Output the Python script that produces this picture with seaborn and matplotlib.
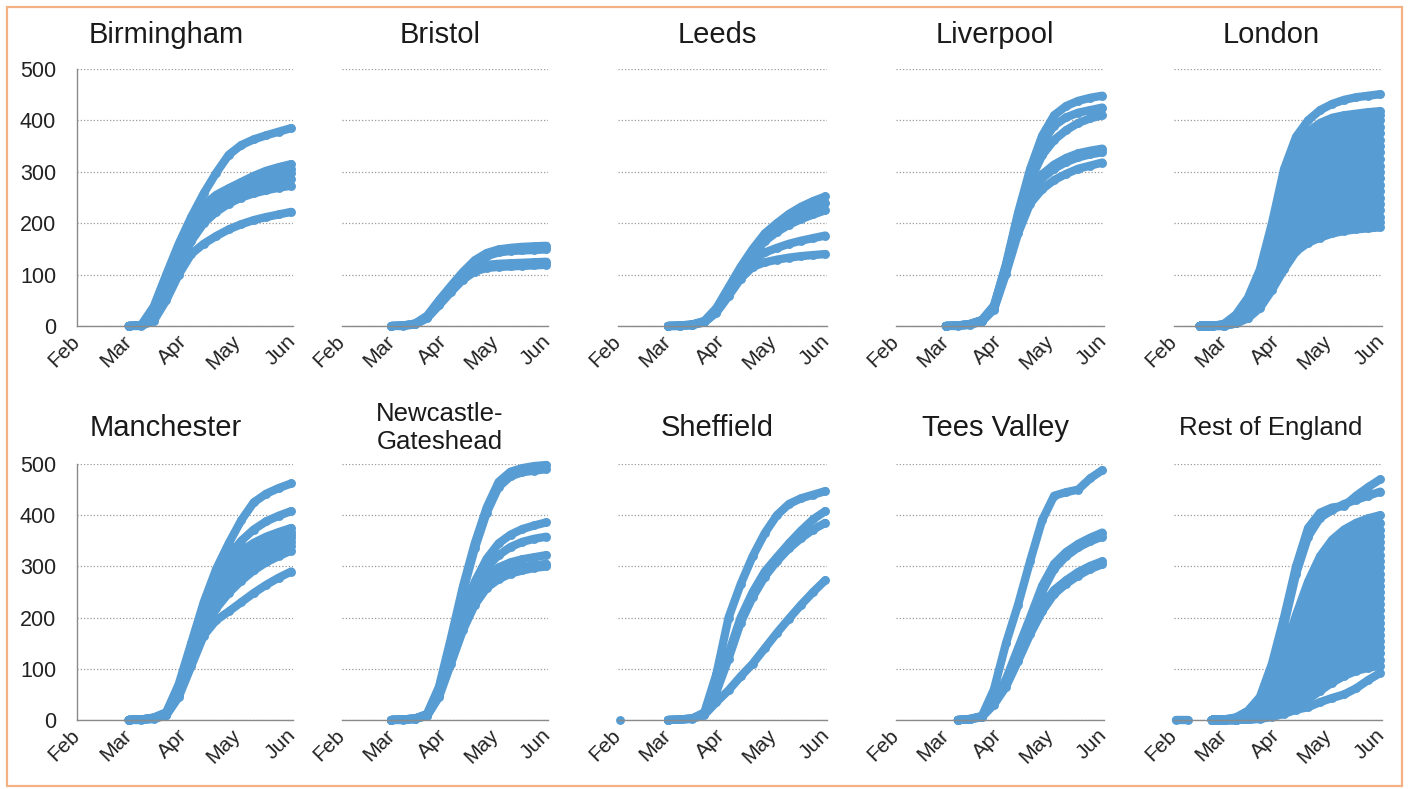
import numpy as np
import pandas as pd
import matplotlib
matplotlib.use("Agg")
import matplotlib.pyplot as plt
import seaborn as sns
from matplotlib.patches import Rectangle

_ = np.nan

# Weekly observation dates (cumulative rate per 100,000 by local authority)
dates = ["2020-02-02", "2020-02-09", "2020-02-16", "2020-02-23", "2020-03-01",
         "2020-03-08", "2020-03-15", "2020-03-22", "2020-03-29", "2020-04-05",
         "2020-04-12", "2020-04-19", "2020-04-26", "2020-05-03", "2020-05-10",
         "2020-05-17", "2020-05-24", "2020-05-31"]

month_ticks = ["2020-02-01", "2020-03-01", "2020-04-01", "2020-05-01", "2020-06-01"]
month_labels = ["Feb", "Mar", "Apr", "May", "Jun"]
y_ticks = [0, 100, 200, 300, 400, 500]

birmingham = [
    [_, _, _, _, 0, 2, 38, 100, 160, 212, 258, 298, 333, 352, 363, 371, 378, 385],
    [_, _, _, _, 0, 1, 30, 90, 150, 200, 235, 255, 268, 280, 292, 302, 309, 315],
    [_, _, _, _, 0, 1, 25, 80, 140, 190, 225, 245, 260, 273, 284, 293, 300, 306],
    [_, _, _, _, 0, 1, 22, 75, 135, 185, 222, 245, 258, 270, 280, 288, 293, 297],
    [_, _, _, _, 0, 1, 20, 70, 125, 175, 210, 232, 248, 260, 268, 276, 281, 286],
    [_, _, _, _, 0, 1, 15, 60, 115, 165, 200, 222, 238, 250, 258, 264, 269, 273],
    [_, _, _, _, 0, 0, 10, 50, 100, 140, 160, 175, 188, 198, 206, 212, 217, 222],
]

bristol = [
    [_, _, _, _, 0, 1, 5, 20, 50, 78, 105, 128, 142, 149, 152, 154, 155, 156],
    [_, _, _, _, 0, 1, 4, 18, 46, 73, 100, 122, 136, 143, 146, 147, 148, 149],
    [_, _, _, _, 0, 1, 4, 17, 44, 70, 95, 112, 119, 121, 122, 123, 124, 125],
    [_, _, _, _, 0, 0, 3, 15, 40, 66, 90, 106, 113, 115, 116, 117, 118, 119],
]

leeds = [
    [_, _, _, _, 0, 1, 3, 10, 35, 75, 115, 150, 180, 200, 218, 232, 243, 252],
    [_, _, _, _, 0, 1, 3, 9, 32, 70, 108, 145, 172, 192, 208, 222, 232, 240],
    [_, _, _, _, 0, 1, 2, 8, 30, 66, 102, 138, 165, 183, 197, 208, 217, 225],
    [_, _, _, _, 0, 0, 2, 8, 28, 62, 98, 128, 143, 152, 160, 166, 171, 176],
    [_, _, _, _, 0, 0, 2, 7, 26, 58, 92, 115, 124, 129, 133, 136, 138, 140],
]

liverpool = [
    [_, _, _, _, 0, 1, 4, 12, 40, 120, 220, 305, 370, 410, 428, 438, 444, 448],
    [_, _, _, _, 0, 1, 4, 11, 38, 118, 215, 298, 355, 390, 406, 415, 420, 425],
    [_, _, _, _, 0, 1, 3, 10, 36, 115, 208, 282, 332, 362, 381, 395, 404, 410],
    [_, _, _, _, 0, 1, 3, 10, 35, 112, 200, 260, 295, 314, 327, 336, 341, 345],
    [_, _, _, _, 0, 1, 3, 10, 34, 110, 195, 254, 287, 306, 319, 328, 334, 338],
    [_, _, _, _, 0, 0, 2, 9, 32, 102, 180, 238, 266, 284, 296, 306, 312, 318],
]

london = [
    [_, _, 0, 0, 4, 22, 55, 110, 200, 305, 368, 400, 420, 432, 440, 445, 448, 451],
    [_, _, 0, 0, 3, 18, 48, 100, 185, 285, 345, 378, 395, 405, 410, 413, 416, 418],
    [_, _, 0, 0, 3, 16, 45, 95, 178, 275, 335, 368, 385, 395, 402, 406, 408, 410],
    [_, _, 0, 0, 2, 15, 42, 92, 170, 262, 320, 352, 370, 382, 390, 395, 398, 400],
    [_, _, 0, 0, 2, 14, 40, 88, 162, 250, 305, 338, 355, 368, 376, 382, 385, 388],
    [_, _, 0, 0, 2, 13, 38, 85, 155, 240, 292, 322, 340, 352, 362, 368, 372, 375],
    [_, _, 0, 0, 2, 12, 36, 82, 148, 230, 280, 308, 325, 338, 348, 354, 358, 362],
    [_, _, 0, 0, 2, 12, 34, 78, 142, 220, 268, 295, 312, 325, 335, 342, 346, 350],
    [_, _, 0, 0, 1, 11, 32, 75, 136, 210, 255, 282, 300, 313, 322, 329, 334, 338],
    [_, _, 0, 0, 1, 10, 30, 72, 130, 200, 243, 270, 287, 300, 310, 316, 321, 325],
    [_, _, 0, 0, 1, 10, 28, 68, 124, 190, 232, 258, 275, 288, 298, 304, 308, 312],
    [_, _, 0, 0, 1, 9, 27, 65, 118, 180, 220, 246, 263, 276, 285, 292, 296, 300],
    [_, _, 0, 0, 1, 8, 25, 62, 112, 170, 210, 234, 250, 263, 272, 279, 284, 287],
    [_, _, 0, 0, 1, 8, 24, 58, 106, 160, 200, 223, 239, 251, 260, 267, 272, 275],
    [_, _, 0, 0, 1, 7, 22, 55, 100, 152, 190, 212, 227, 239, 248, 254, 258, 262],
    [_, _, 0, 0, 1, 7, 21, 52, 95, 145, 180, 200, 215, 227, 236, 242, 246, 250],
    [_, _, 0, 0, 1, 6, 20, 48, 90, 138, 170, 190, 204, 215, 224, 230, 234, 238],
    [_, _, 0, 0, 1, 6, 18, 45, 85, 130, 162, 180, 193, 204, 212, 218, 222, 225],
    [_, _, 0, 0, 1, 5, 17, 42, 80, 122, 155, 172, 184, 194, 201, 206, 209, 212],
    [_, _, 0, 0, 0, 5, 16, 38, 75, 116, 150, 166, 177, 186, 192, 197, 200, 202],
    [_, _, 0, 0, 0, 5, 15, 35, 70, 110, 145, 162, 172, 180, 185, 188, 190, 192],
]

manchester = [
    [_, _, _, _, 0, 1, 5, 15, 70, 150, 230, 295, 345, 390, 425, 442, 453, 462],
    [_, _, _, _, 0, 1, 4, 14, 65, 140, 215, 280, 320, 350, 372, 388, 399, 408],
    [_, _, _, _, 0, 1, 4, 13, 62, 135, 210, 270, 305, 330, 346, 358, 367, 375],
    [_, _, _, _, 0, 1, 4, 12, 60, 130, 205, 262, 298, 322, 338, 350, 360, 368],
    [_, _, _, _, 0, 1, 3, 12, 58, 128, 200, 258, 292, 316, 332, 344, 354, 362],
    [_, _, _, _, 0, 1, 3, 11, 55, 125, 195, 250, 285, 308, 325, 338, 348, 356],
    [_, _, _, _, 0, 1, 3, 11, 52, 120, 190, 243, 278, 300, 318, 330, 340, 348],
    [_, _, _, _, 0, 1, 3, 10, 50, 115, 185, 235, 268, 292, 310, 322, 332, 340],
    [_, _, _, _, 0, 1, 3, 10, 48, 110, 175, 218, 248, 272, 292, 308, 320, 331],
    [_, _, _, _, 0, 0, 2, 9, 45, 105, 165, 195, 212, 230, 248, 264, 278, 290],
]

newcastle = [
    [_, _, _, _, 0, 1, 3, 12, 65, 160, 260, 345, 415, 465, 485, 492, 496, 498],
    [_, _, _, _, 0, 1, 3, 11, 62, 152, 250, 335, 405, 455, 476, 484, 487, 490],
    [_, _, _, _, 0, 1, 3, 10, 55, 140, 215, 270, 315, 345, 362, 373, 380, 386],
    [_, _, _, _, 0, 1, 3, 10, 52, 135, 205, 258, 298, 322, 338, 348, 354, 358],
    [_, _, _, _, 0, 1, 2, 9, 50, 130, 200, 250, 282, 298, 308, 314, 318, 322],
    [_, _, _, _, 0, 1, 2, 9, 48, 122, 190, 240, 268, 282, 292, 298, 302, 305],
    [_, _, _, _, 0, 0, 2, 8, 45, 110, 175, 225, 258, 275, 286, 292, 297, 300],
]

sheffield = [
    [0, _, _, _, _, _, _, _, _, _, _, _, _, _, _, _, _, _],
    [_, _, _, _, 0, 1, 3, 15, 90, 200, 265, 320, 365, 400, 422, 433, 440, 447],
    [_, _, _, _, 0, 1, 3, 12, 60, 130, 200, 250, 290, 318, 345, 370, 392, 408],
    [_, _, _, _, 0, 1, 3, 11, 55, 120, 190, 240, 280, 310, 335, 355, 372, 385],
    [_, _, _, _, 0, 1, 2, 10, 35, 58, 85, 110, 140, 170, 198, 225, 250, 273],
]

tees_valley = [
    [_, _, _, _, _, 0, 2, 8, 60, 150, 225, 310, 390, 438, 445, 450, 472, 488],
    [_, _, _, _, _, 0, 2, 7, 38, 80, 140, 200, 262, 305, 328, 344, 356, 366],
    [_, _, _, _, _, 0, 2, 7, 36, 76, 132, 192, 250, 295, 320, 337, 349, 358],
    [_, _, _, _, _, 0, 1, 6, 33, 70, 122, 175, 222, 254, 273, 289, 301, 310],
    [_, _, _, _, _, 0, 1, 6, 30, 65, 115, 167, 212, 246, 266, 282, 295, 304],
]

rest_of_england = [
    [0, 0, _, _, _, _, _, _, _, _, _, _, _, _, _, _, _, _],
    [_, _, _, 0, 1, 5, 18, 45, 110, 200, 300, 375, 405, 415, 418, 438, 455, 470],
    [_, _, _, 0, 1, 4, 16, 42, 100, 185, 285, 358, 395, 410, 422, 430, 438, 446],
    [_, _, _, 0, 0, 3, 10, 30, 70, 135, 205, 270, 320, 352, 372, 385, 394, 400],
    [_, _, _, 0, 0, 3, 9, 27, 62, 120, 190, 252, 300, 335, 355, 369, 378, 385],
    [_, _, _, 0, 0, 2, 8, 25, 58, 112, 178, 238, 286, 320, 342, 356, 365, 372],
    [_, _, _, 0, 0, 2, 8, 23, 54, 104, 166, 225, 272, 305, 328, 343, 353, 360],
    [_, _, _, 0, 0, 2, 7, 21, 50, 97, 155, 212, 258, 292, 315, 330, 340, 348],
    [_, _, _, 0, 0, 2, 7, 20, 46, 90, 145, 200, 245, 278, 301, 317, 327, 335],
    [_, _, _, 0, 0, 2, 6, 18, 42, 83, 135, 188, 232, 265, 288, 304, 314, 322],
    [_, _, _, 0, 0, 2, 6, 17, 39, 77, 126, 177, 220, 252, 275, 291, 302, 310],
    [_, _, _, 0, 0, 1, 5, 15, 36, 71, 118, 166, 208, 240, 263, 279, 290, 298],
    [_, _, _, 0, 0, 1, 5, 14, 33, 65, 110, 156, 196, 228, 251, 267, 278, 286],
    [_, _, _, 0, 0, 1, 4, 13, 30, 60, 102, 146, 185, 216, 239, 255, 266, 274],
    [_, _, _, 0, 0, 1, 4, 12, 28, 55, 94, 136, 174, 204, 227, 243, 254, 262],
    [_, _, _, 0, 0, 1, 4, 11, 25, 50, 87, 127, 163, 193, 215, 231, 242, 250],
    [_, _, _, 0, 0, 1, 3, 10, 23, 46, 80, 118, 153, 182, 204, 220, 230, 238],
    [_, _, _, 0, 0, 1, 3, 9, 21, 42, 73, 109, 143, 171, 192, 208, 218, 226],
    [_, _, _, 0, 0, 1, 3, 8, 19, 38, 67, 101, 133, 160, 181, 196, 206, 214],
    [_, _, _, 0, 0, 1, 3, 7, 17, 34, 61, 93, 123, 150, 170, 185, 195, 202],
    [_, _, _, 0, 0, 1, 2, 7, 15, 31, 55, 85, 114, 140, 159, 174, 183, 190],
    [_, _, _, 0, 0, 0, 2, 6, 14, 28, 50, 78, 105, 130, 148, 162, 171, 178],
    [_, _, _, 0, 0, 0, 2, 5, 12, 25, 45, 71, 96, 120, 138, 151, 160, 166],
    [_, _, _, 0, 0, 0, 2, 5, 11, 22, 40, 64, 88, 110, 127, 140, 148, 154],
    [_, _, _, 0, 0, 0, 1, 4, 10, 20, 36, 58, 80, 100, 117, 129, 137, 142],
    [_, _, _, 0, 0, 0, 1, 4, 9, 18, 32, 52, 72, 91, 106, 118, 125, 130],
    [_, _, _, 0, 0, 0, 1, 3, 8, 16, 28, 46, 64, 82, 96, 107, 114, 118],
    [_, _, _, 0, 0, 0, 1, 3, 7, 14, 25, 40, 57, 73, 86, 96, 102, 106],
    [_, _, _, 0, 0, 0, 1, 2, 6, 12, 20, 25, 35, 43, 50, 62, 78, 92],
]

regions = ["Birmingham", "Bristol", "Leeds", "Liverpool", "London",
           "Manchester", "Newcastle-\nGateshead", "Sheffield", "Tees Valley",
           "Rest of England"]
region_series = [birmingham, bristol, leeds, liverpool, london,
                 manchester, newcastle, sheffield, tees_valley, rest_of_england]

BLUE = "#579CD3"
GRID = "#9B9B9B"
AXIS = "#8A8A8A"
BORDER = "#F4B183"

sns.set_theme(style="white")
plt.rcParams["font.family"] = ["Liberation Sans", "DejaVu Sans"]

W, H = 1408, 789
fig = plt.figure(figsize=(W / 100, H / 100), dpi=100)
fig.patch.set_facecolor("white")

col_left = [77, 342, 618, 896, 1174]
col_width = [216, 206, 209, 208, 208]
row_top = [69, 464]
row_bottom = [326, 720]
title_x = [166, 440, 717, 995, 1271]
title_y = [35, 428]

x_dates = pd.to_datetime(dates)

for k, (name, series) in enumerate(zip(regions, region_series)):
    r, c = divmod(k, 5)
    left = col_left[c] / W
    bottom = (H - row_bottom[r]) / H
    height = (row_bottom[r] - row_top[r]) / H
    ax = fig.add_axes([left, bottom, col_width[c] / W, height])

    rows = []
    for i, vals in enumerate(series):
        for d, v in zip(x_dates, vals):
            if not np.isnan(v):
                rows.append({"date": d, "value": v, "area": i})
    df = pd.DataFrame(rows)

    sns.lineplot(data=df, x="date", y="value", units="area", estimator=None,
                 color=BLUE, linewidth=6.0, marker="o", markersize=6.4,
                 markeredgewidth=0, solid_capstyle="round",
                 solid_joinstyle="round", sort=False, legend=False, ax=ax)
    for ln in ax.lines:
        ln.set_clip_on(False)

    ax.set_xlim(pd.Timestamp("2020-02-01"), pd.Timestamp("2020-06-01"))
    ax.set_ylim(0, 500)
    ax.set_xlabel("")
    ax.set_ylabel("")
    ax.set_xticks(pd.to_datetime(month_ticks))
    ax.set_xticklabels(month_labels, rotation=45, ha="right", va="center",
                       rotation_mode="anchor")
    ax.set_yticks(y_ticks)
    ax.yaxis.grid(True, linestyle=(0, (1, 1.6)), color=GRID, linewidth=0.9)
    ax.xaxis.grid(False)
    ax.set_axisbelow(True)
    ax.tick_params(axis="x", length=0, labelsize=15, pad=9, colors="#222222")
    ax.tick_params(axis="y", length=0, labelsize=15.5, pad=15, colors="#222222")

    for side in ("top", "right"):
        ax.spines[side].set_visible(False)
    ax.spines["bottom"].set_color(AXIS)
    ax.spines["bottom"].set_linewidth(1.0)
    if c == 0:
        ax.spines["left"].set_color(AXIS)
        ax.spines["left"].set_linewidth(1.0)
    else:
        ax.spines["left"].set_visible(False)
        ax.set_yticklabels([])

    if name == "Rest of England":
        size, spacing = 18.5, 1.0
    elif name.startswith("Newcastle"):
        size, spacing = 18.5, 1.2
    else:
        size, spacing = 21, 1.0
    fig.text(title_x[c] / W, 1 - title_y[r] / H, name,
             ha="center", va="center", fontsize=size,
             color="#1a1a1a", linespacing=spacing)

fig.add_artist(Rectangle((7 / W, 3 / H), (1402 - 7) / W, (782 - 3) / H,
                         transform=fig.transFigure, fill=False,
                         edgecolor=BORDER, linewidth=1.6))

fig.savefig("out.png", dpi=100, facecolor="white")
